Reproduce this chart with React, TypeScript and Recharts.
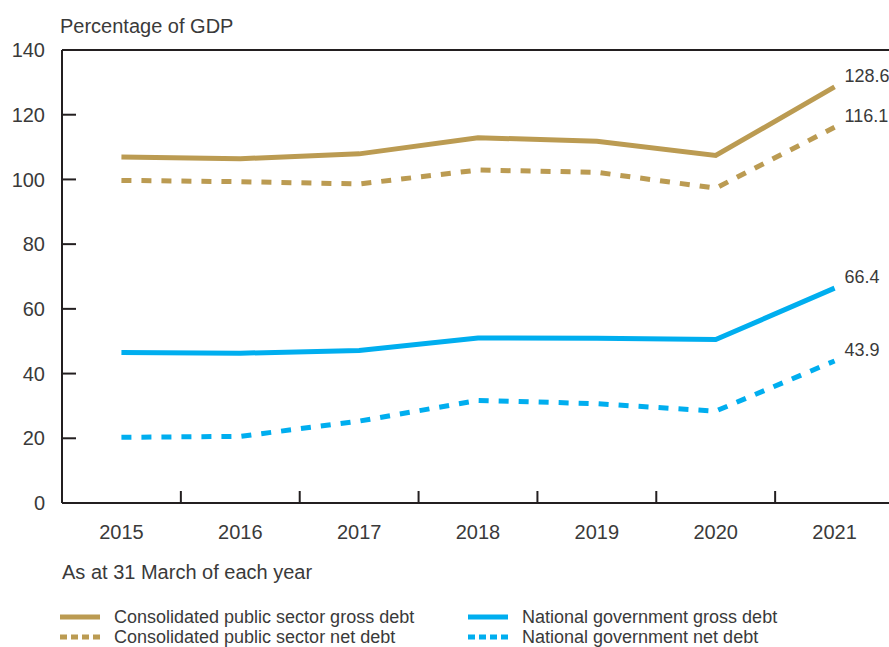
import React from "react";
import { LineChart, Line, XAxis, YAxis, ReferenceLine, LabelList } from "recharts";

const years = ["2015", "2016", "2017", "2018", "2019", "2020", "2021"];
const cpsGross = [106.9, 106.4, 107.9, 112.9, 111.8, 107.4, 128.6];
const cpsNet = [99.7, 99.3, 98.6, 102.9, 102.2, 97.3, 116.1];
const ngGross = [46.5, 46.3, 47.1, 51.0, 50.9, 50.5, 66.4];
const ngNet = [20.3, 20.6, 25.3, 31.7, 30.7, 28.4, 43.9];
const yTicks = [0, 20, 40, 60, 80, 100, 120, 140];

const GOLD = "#BB9B52";
const BLUE = "#00AEEF";
const INK = "#231F20";
const TEXT = "#3a3a3a";
const FONT = "'Liberation Sans', Arial, sans-serif";

const CHART_W = 900;
const CHART_H = 647;
const MARGIN = { top: 50, right: 6, left: 0, bottom: 104 };
const Y_W = 62;
const X_H = 40;
const PLOT_W = CHART_W - MARGIN.left - MARGIN.right - Y_W;
const BAND = PLOT_W / years.length;
const X_TICK_GAP = 36;

const data = years.map((year, i) => ({
  year,
  cpsGross: cpsGross[i],
  cpsNet: cpsNet[i],
  ngGross: ngGross[i],
  ngNet: ngNet[i],
}));

// year label under the band centre, tick mark on the band boundary pointing up
function YearTick(props: any) {
  const { x, y, index, payload } = props;
  const axisY = y - X_TICK_GAP;
  return (
    <g>
      {index < years.length - 1 && (
        <line x1={x + BAND / 2} x2={x + BAND / 2} y1={axisY} y2={axisY - 12} stroke={INK} strokeWidth={2} />
      )}
      <text x={x} y={y} textAnchor="middle" fill={TEXT} fontSize={20} fontFamily={FONT}>
        {payload.value}
      </text>
    </g>
  );
}

function lastLabel(props: any) {
  const { x, y, value, index } = props;
  if (index !== years.length - 1) return null;
  return (
    <text x={x + 10} y={y - 5} fill={TEXT} fontSize={18} fontFamily={FONT}>
      {Number(value).toFixed(1)}
    </text>
  );
}

function LegendItem({ color, dashed, label }: { color: string; dashed?: boolean; label: string }) {
  return (
    <div style={{ display: "flex", alignItems: "center", height: 20 }}>
      <svg width={40} height={6} style={{ marginRight: 14 }}>
        <line
          x1={0}
          x2={40}
          y1={3}
          y2={3}
          stroke={color}
          strokeWidth={5}
          strokeDasharray={dashed ? "7 4" : undefined}
        />
      </svg>
      <span>{label}</span>
    </div>
  );
}

export default function App() {
  return (
    <div
      style={{
        position: "fixed",
        left: 0,
        top: 0,
        width: 889,
        height: 647,
        overflow: "hidden",
        background: "#fff",
        fontFamily: FONT,
        color: TEXT,
      }}
    >
      <div style={{ position: "absolute", left: 60, top: 15, fontSize: 20 }}>Percentage of GDP</div>
      <LineChart width={CHART_W} height={CHART_H} data={data} margin={MARGIN}>
        <XAxis
          dataKey="year"
          scale="band"
          height={X_H}
          stroke={INK}
          strokeWidth={2}
          tickLine={false}
          tickSize={0}
          tickMargin={X_TICK_GAP}
          interval={0}
          tick={<YearTick />}
        />
        <YAxis
          domain={[0, 140]}
          ticks={yTicks}
          width={Y_W}
          stroke={INK}
          strokeWidth={2}
          tickSize={-14}
          tickMargin={31}
          tick={{ fill: TEXT, fontSize: 20, fontFamily: FONT }}
          interval={0}
        />
        <ReferenceLine y={140} stroke={INK} strokeWidth={2} ifOverflow="visible" />
        <Line dataKey="cpsGross" stroke={GOLD} strokeWidth={5} dot={false} isAnimationActive={false}>
          <LabelList dataKey="cpsGross" content={lastLabel} />
        </Line>
        <Line
          dataKey="cpsNet"
          stroke={GOLD}
          strokeWidth={5}
          strokeDasharray="10 10"
          dot={false}
          isAnimationActive={false}
        >
          <LabelList dataKey="cpsNet" content={lastLabel} />
        </Line>
        <Line dataKey="ngGross" stroke={BLUE} strokeWidth={5} dot={false} isAnimationActive={false}>
          <LabelList dataKey="ngGross" content={lastLabel} />
        </Line>
        <Line
          dataKey="ngNet"
          stroke={BLUE}
          strokeWidth={5}
          strokeDasharray="10 10"
          dot={false}
          isAnimationActive={false}
        >
          <LabelList dataKey="ngNet" content={lastLabel} />
        </Line>
      </LineChart>
      <div style={{ position: "absolute", left: 62, top: 561, fontSize: 20 }}>As at 31 March of each year</div>
      <div style={{ position: "absolute", left: 60, top: 607, fontSize: 18, lineHeight: "20px" }}>
        <LegendItem color={GOLD} label="Consolidated public sector gross debt" />
        <LegendItem color={GOLD} dashed label="Consolidated public sector net debt" />
      </div>
      <div style={{ position: "absolute", left: 468, top: 607, fontSize: 18, lineHeight: "20px" }}>
        <LegendItem color={BLUE} label="National government gross debt" />
        <LegendItem color={BLUE} dashed label="National government net debt" />
      </div>
    </div>
  );
}
